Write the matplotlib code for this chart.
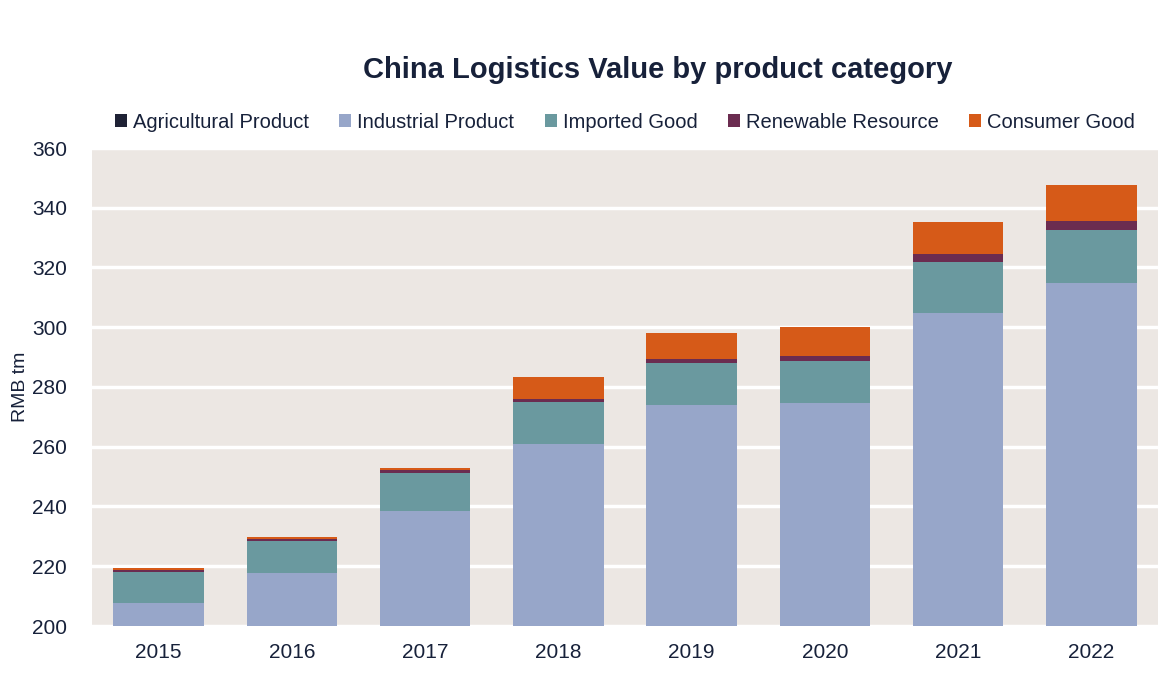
import numpy as np
import matplotlib
matplotlib.use("Agg")
import matplotlib.pyplot as plt

# ---------------- DATA ----------------
years = ["2015", "2016", "2017", "2018", "2019", "2020", "2021", "2022"]
agricultural = [3.2, 3.4, 3.6, 3.8, 4.0, 4.1, 4.3, 4.5]
industrial = [204.6, 214.3, 234.9, 257.1, 270.0, 270.6, 300.5, 310.2]
imported = [10.4, 10.8, 12.7, 14.0, 14.1, 14.0, 17.2, 17.9]
renewable = [0.6, 0.6, 0.9, 1.0, 1.3, 1.7, 2.4, 3.0]
consumer = [0.5, 0.7, 0.8, 7.3, 8.7, 9.7, 10.8, 12.0]

series = [
    ("Agricultural Product", agricultural, "#1f2235"),
    ("Industrial Product", industrial, "#97a6c9"),
    ("Imported Good", imported, "#6a999f"),
    ("Renewable Resource", renewable, "#6b2c50"),
    ("Consumer Good", consumer, "#d65a18"),
]

TEXT = "#17213a"
BG = "#ece7e3"

plt.rcParams["font.family"] = ["Liberation Sans", "DejaVu Sans"]

fig = plt.figure(figsize=(11.69, 6.81), dpi=100)
ax = fig.add_axes([92 / 1169, 1 - 626 / 681, 1066 / 1169, 478 / 681])
ax.set_facecolor(BG)

x = np.arange(len(years))
bottom = np.zeros(len(years))
for name, vals, col in series:
    ax.bar(x, vals, 0.68, bottom=bottom, color=col, label=name, zorder=3)
    bottom += np.array(vals)

ax.set_ylim(200, 360)
ax.set_xlim(-0.5, len(years) - 0.5)
ax.set_yticks(range(200, 361, 20))
ax.set_xticks(x)
ax.set_xticklabels(years)
ax.grid(axis="y", color="white", linewidth=2.5, zorder=1)
ax.set_axisbelow(True)
ax.tick_params(length=0, labelsize=15, colors=TEXT, pad=12)
ax.tick_params(axis="y", pad=18)
for s in ax.spines.values():
    s.set_visible(False)

ax.set_ylabel("RMB tm", fontsize=14, color=TEXT)
ax.yaxis.set_label_coords(-0.059, 0.5)

fig.text(658 / 1169, 1 - 70 / 681, "China Logistics Value by product category",
         ha="center", va="center", fontsize=21, fontweight="bold", color=TEXT)

ax.legend(loc="center", bbox_to_anchor=(0.5, 1 + (148 - 122) / 478), ncol=5,
          frameon=False, fontsize=14.5, handlelength=0.6, handleheight=0.6,
          handletextpad=0.3, columnspacing=1.5, labelcolor=TEXT)

fig.savefig("out.png", dpi=100, facecolor="white")
